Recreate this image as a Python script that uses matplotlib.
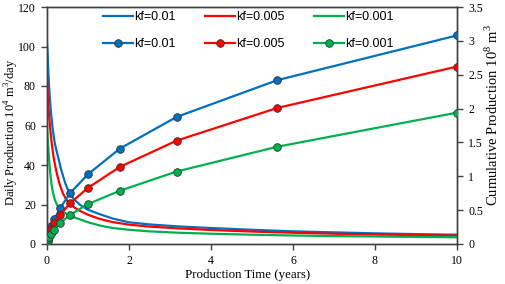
import matplotlib
matplotlib.use("Agg")
import matplotlib.pyplot as plt
from matplotlib.lines import Line2D

# Daily production (10^4 m3/day), left axis
t_blue_d = [0, 0.01, 0.03, 0.05, 0.075, 0.1, 0.14, 0.19, 0.24, 0.29, 0.34, 0.39, 0.45, 0.53, 0.65,
            0.8, 1.0, 1.3, 1.6, 2.0, 2.5, 3.2, 4, 5, 6, 7, 8, 9, 10]
q_blue = [102, 98, 88, 80, 72, 66, 58, 51, 46.5, 42.5, 38, 34.5, 30.5, 26.5, 22.8,
          19.9, 17.3, 15, 12.9, 11, 9.9, 8.9, 8.1, 7.2, 6.4, 5.9, 5.4, 5.0, 4.7]
t_red_d = [0, 0.01, 0.025, 0.04, 0.07, 0.115, 0.16, 0.21, 0.26, 0.32, 0.39, 0.47, 0.56, 0.68,
           0.8, 1.0, 1.3, 1.6, 2, 2.5, 3.2, 4, 5, 6, 7, 8, 9, 10]
q_red = [84, 79, 73, 68, 60, 51, 44, 38.5, 34, 29.5, 25.5, 22.5, 20.3, 18.3,
         16.8, 14.8, 12.6, 11.1, 9.8, 8.8, 7.9, 7.1, 6.3, 5.7, 5.2, 4.8, 4.5, 4.3]
t_green_d = [0, 0.01, 0.025, 0.05, 0.07, 0.09, 0.115, 0.146, 0.19, 0.24, 0.3, 0.4, 0.53, 0.65,
             0.8, 1.0, 1.3, 1.6, 2, 2.5, 3.2, 4, 5, 6, 7, 8, 9, 10]
q_green = [60, 56, 51, 43, 38, 34, 29.5, 26, 22.5, 20, 18, 16.2, 14.6, 13.6,
           12.5, 11, 9.3, 8.1, 7.2, 6.4, 5.7, 5.2, 4.7, 4.3, 4.0, 3.8, 3.6, 3.4]

# Cumulative production (10^8 m3), right axis
t_cum = [0, 0.0056, 0.01, 0.018, 0.032, 0.056, 0.1, 0.18, 0.32, 0.56, 1.0, 1.78, 3.16, 5.62, 10.0]
c_blue = [0, 0.042, 0.064, 0.091, 0.129, 0.183, 0.26, 0.37, 0.527, 0.75, 1.03, 1.41, 1.876, 2.42, 3.08]
c_red = [0, 0.034, 0.05, 0.072, 0.105, 0.15, 0.217, 0.306, 0.43, 0.60, 0.83, 1.14, 1.526, 2.01, 2.62]
c_green = [0, 0.023, 0.034, 0.05, 0.072, 0.105, 0.15, 0.207, 0.306, 0.43, 0.59, 0.787, 1.07, 1.437, 1.94]

labels = ["kf=0.01", "kf=0.005", "kf=0.001"]
colors = ["#0070C0", "#FF0000", "#00B050"]

serif = ["Liberation Serif", "DejaVu Serif"]
plt.rcParams["font.family"] = serif
plt.rcParams["mathtext.fontset"] = "custom"
plt.rcParams["mathtext.rm"] = "Liberation Serif"

fig = plt.figure(figsize=(5.05, 2.84), dpi=100)
ax = fig.add_axes([47/505, 40/284, 410/505, 237/284])
ax2 = ax.twinx()

lw = 1.6
for t, q, c in [(t_blue_d, q_blue, colors[0]), (t_red_d, q_red, colors[1]), (t_green_d, q_green, colors[2])]:
    ax.plot(t, q, color=c, lw=lw, zorder=3)
for c_vals, c in [(c_blue, colors[0]), (c_red, colors[1]), (c_green, colors[2])]:
    ax2.plot(t_cum, c_vals, color=c, lw=lw, marker="o", ms=5.5,
             markeredgecolor="#333333", markeredgewidth=0.6, zorder=3)

ax.set_xlim(0, 10)
ax.set_ylim(0, 120)
ax2.set_ylim(0, 3.5)
ax.set_xticks([0, 2, 4, 6, 8, 10])
ax.set_yticks(range(0, 121, 20))
ax2.set_yticks([0, 0.5, 1, 1.5, 2, 2.5, 3, 3.5])
ax2.set_yticklabels(["0", "0.5", "1", "1.5", "2", "2.5", "3", "3.5"])

spine_c = "#404040"
for a in (ax, ax2):
    for s in a.spines.values():
        s.set_color(spine_c)
        s.set_linewidth(1.0)
    a.tick_params(direction="out", length=4, width=1.0, color=spine_c, labelsize=8.5,
                  labelcolor="black", pad=4)

ax.set_xlabel("Production Time (years)", fontsize=9.3, va="center")
ax.xaxis.set_label_coords((248 - 47) / 410, -(275 - 244) / 237)
ax.set_ylabel("Daily Production 10$^4$ m$^3$/day", fontsize=9, va="center")
ax.yaxis.set_label_coords(-(47 - 12) / 410, (244 - 132) / 237)
ax2.set_ylabel("Cumulative Production 10$^8$ m$^3$", fontsize=10.5, va="center")
ax2.yaxis.set_label_coords((492 - 47) / 410, (244 - 115) / 237)

handles = []
for lab, c in zip(labels, colors):
    handles.append(Line2D([], [], color=c, lw=lw))
    handles.append(Line2D([], [], color=c, lw=lw, marker="o", ms=5.5,
                          markeredgecolor="#333333", markeredgewidth=0.6))
leg_labels = []
for lab in labels:
    leg_labels += [lab, lab]
leg = ax2.legend(handles, leg_labels, ncol=3, loc="upper left",
                 bbox_to_anchor=(0.11, 1.03), frameon=False,
                 prop={"family": ["Liberation Sans", "DejaVu Sans"], "size": 9},
                 handlelength=2.35, handletextpad=0.1, columnspacing=2.4,
                 labelspacing=1.2)

fig.savefig("out.png", dpi=100)
